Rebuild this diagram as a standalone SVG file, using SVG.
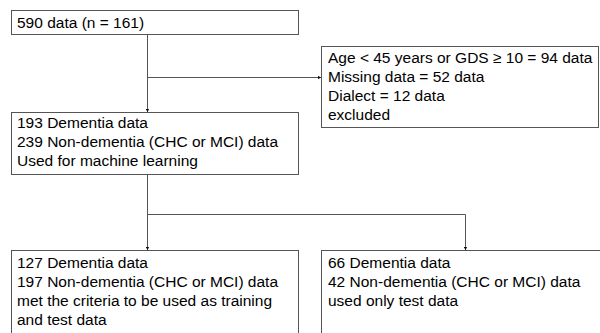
<svg xmlns="http://www.w3.org/2000/svg" width="600" height="333" viewBox="0 0 600 333">
<style>
.box{fill:#fff;stroke:#555;stroke-width:1}
.t{font-family:"Liberation Sans",Arial,sans-serif;font-size:15.5px;fill:#000}
.c{fill:none;stroke:#555;stroke-width:1}
</style>
<defs>
<marker id="ah" markerWidth="4" markerHeight="4" refX="3.5" refY="2" orient="auto" markerUnits="userSpaceOnUse">
<path d="M0,0 L3.5,2 L0,4 Z" fill="#111"/>
</marker>
</defs>
<rect width="600" height="333" fill="#fff"/>
<g id="connectors">
<path class="c" d="M147.5,34 V112" marker-end="url(#ah)"/>
<path class="c" d="M147.5,77.5 H321" marker-end="url(#ah)"/>
<path class="c" d="M147.5,175 V250" marker-end="url(#ah)"/>
<path class="c" d="M147.5,214.5 H465.5 V250" marker-end="url(#ah)"/>
</g>
<g id="n1">
<rect class="box" x="11.5" y="10.5" width="287" height="24"/>
<text class="t" x="17" y="28">590 data (n = 161)</text>
</g>
<g id="n2">
<rect class="box" x="321.5" y="46.5" width="277" height="81"/>
<text class="t" x="328" y="63">Age &lt; 45 years or GDS ≥ 10 = 94 data</text>
<text class="t" x="328" y="82">Missing data = 52 data</text>
<text class="t" x="328" y="101">Dialect = 12 data</text>
<text class="t" x="328" y="120">excluded</text>
</g>
<g id="n3">
<rect class="box" x="11.5" y="112.5" width="287" height="62"/>
<text class="t" x="17" y="128">193 Dementia data</text>
<text class="t" x="17" y="147">239 Non-dementia (CHC or MCI) data</text>
<text class="t" x="17" y="166">Used for machine learning</text>
</g>
<g id="n4">
<rect class="box" x="11.5" y="250.5" width="287" height="90"/>
<text class="t" x="17" y="268">127 Dementia data</text>
<text class="t" x="17" y="287">197 Non-dementia (CHC or MCI) data</text>
<text class="t" x="17" y="306">met the criteria to be used as training</text>
<text class="t" x="17" y="325">and test data</text>
</g>
<g id="n5">
<rect class="box" x="321.5" y="250.5" width="290" height="90"/>
<text class="t" x="328" y="268">66 Dementia data</text>
<text class="t" x="328" y="287">42 Non-dementia (CHC or MCI) data</text>
<text class="t" x="328" y="306">used only test data</text>
</g>
</svg>
